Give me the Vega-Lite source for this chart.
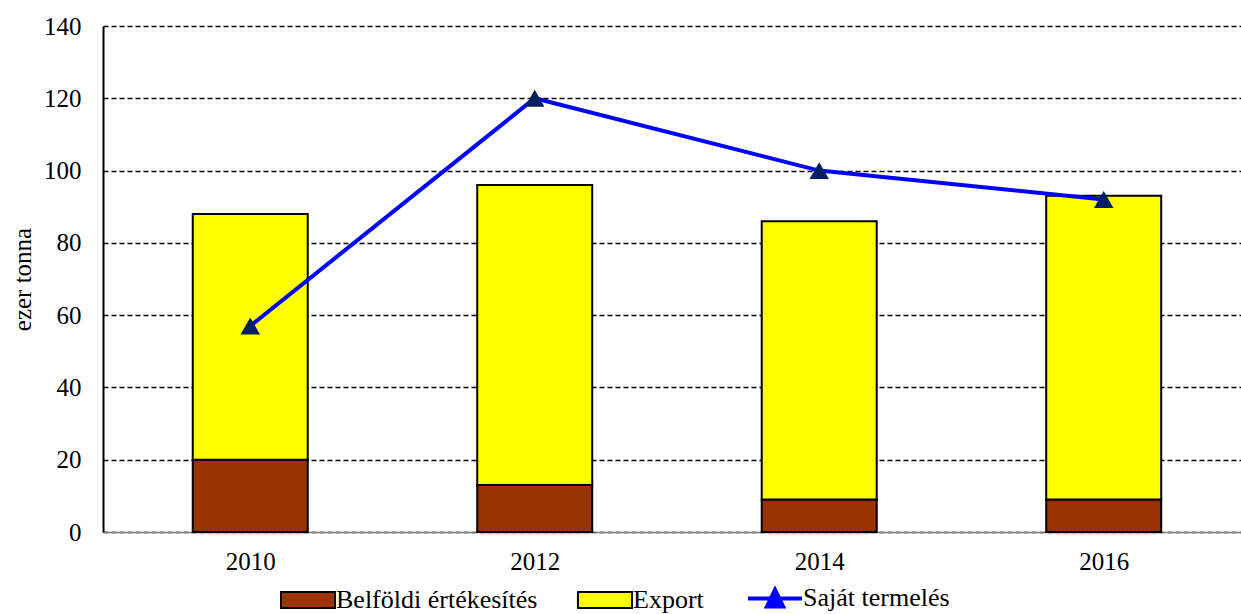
{
  "$schema": "https://vega.github.io/schema/vega-lite/v6.json",
  "autosize": "none",
  "width": 1138,
  "height": 506,
  "padding": {"left": 103, "top": 26, "right": 0, "bottom": 82},
  "background": "white",
  "config": {
    "font": "Liberation Serif",
    "view": {"stroke": null},
    "axis": {"labelFont": "Liberation Serif", "titleFont": "Liberation Serif", "labelColor": "#000000", "titleColor": "#000000"},
    "legend": {"labelFont": "Liberation Serif"}
  },
  "data": {
    "values": [
      {"year": 2010, "series": "Belföldi értékesítés", "value": 20},
      {"year": 2010, "series": "Export", "value": 68},
      {"year": 2010, "series": "Saját termelés", "value": 57},
      {"year": 2012, "series": "Belföldi értékesítés", "value": 13},
      {"year": 2012, "series": "Export", "value": 83},
      {"year": 2012, "series": "Saját termelés", "value": 120},
      {"year": 2014, "series": "Belföldi értékesítés", "value": 9},
      {"year": 2014, "series": "Export", "value": 77},
      {"year": 2014, "series": "Saját termelés", "value": 100},
      {"year": 2016, "series": "Belföldi értékesítés", "value": 9},
      {"year": 2016, "series": "Export", "value": 84},
      {"year": 2016, "series": "Saját termelés", "value": 92}
    ]
  },
  "encoding": {
    "x": {
      "field": "year",
      "type": "quantitative",
      "scale": {"domain": [2009, 2016.93], "nice": false, "zero": false},
      "axis": {
        "title": null,
        "values": [2010, 2012, 2014, 2016],
        "format": "d",
        "grid": false,
        "ticks": false,
        "labelFontSize": 25,
        "labelPadding": 17,
        "domainColor": "#7f7f7f",
        "domainWidth": 1.5,
        "labelFlush": false
      }
    },
    "color": {
      "field": "series",
      "type": "nominal",
      "scale": {
        "domain": ["Belföldi értékesítés", "Export", "Saját termelés"],
        "range": ["#993300", "#FFFF00", "#0000FF"]
      },
      "legend": {
        "title": null,
        "orient": "none",
        "direction": "horizontal",
        "legendX": 192,
        "legendY": 559,
        "labelFontSize": 26,
        "labelLimit": 0,
        "labelOffset": 15,
        "columnPadding": 36,
        "symbolSize": 2916,
        "labelColor": "#000000",
        "symbolType": {"expr": "datum.value === 'Saját termelés' ? 'M-1,0H1M-0.3,0.3L0,-0.32L0.3,0.3Z' : 'M-1,-0.3H1V0.3H-1Z'"},
        "symbolStrokeColor": {"expr": "datum.value === 'Saját termelés' ? '#0000FF' : '#000000'"},
        "symbolStrokeWidth": {"expr": "datum.value === 'Saját termelés' ? 4 : 2"},
        "symbolOpacity": 1
      }
    }
  },
  "layer": [
    {
      "transform": [{"filter": "datum.series !== 'Saját termelés'"}],
      "mark": {"type": "bar", "width": 115, "stroke": "#000000", "strokeWidth": 2},
      "encoding": {
        "y": {
          "field": "value",
          "type": "quantitative",
          "stack": "zero",
          "scale": {"domain": [0, 140], "nice": false},
          "axis": {
            "title": "ezer tonna",
            "titleFontSize": 25,
            "titleFontWeight": "normal",
            "titlePadding": 8,
            "values": [0, 20, 40, 60, 80, 100, 120, 140],
            "ticks": false,
            "labelFontSize": 25,
            "labelPadding": 22,
            "grid": true,
            "gridColor": "#000000",
            "gridDash": [5, 3],
            "gridWidth": 1.5,
            "domainColor": "#000000",
            "domainWidth": 2
          }
        },
        "order": {"field": "series", "sort": "ascending"}
      }
    },
    {
      "transform": [{"filter": "datum.series === 'Saját termelés'"}],
      "mark": {"type": "line", "strokeWidth": 4},
      "encoding": {
        "y": {"field": "value", "type": "quantitative"},
        "color": {"value": "#0000FF"}
      }
    },
    {
      "transform": [{"filter": "datum.series === 'Saját termelés'"}],
      "mark": {"type": "point", "shape": "triangle-up", "filled": true, "opacity": 1, "size": 380},
      "encoding": {
        "y": {"field": "value", "type": "quantitative"},
        "color": {"value": "#002060"}
      }
    }
  ]
}
